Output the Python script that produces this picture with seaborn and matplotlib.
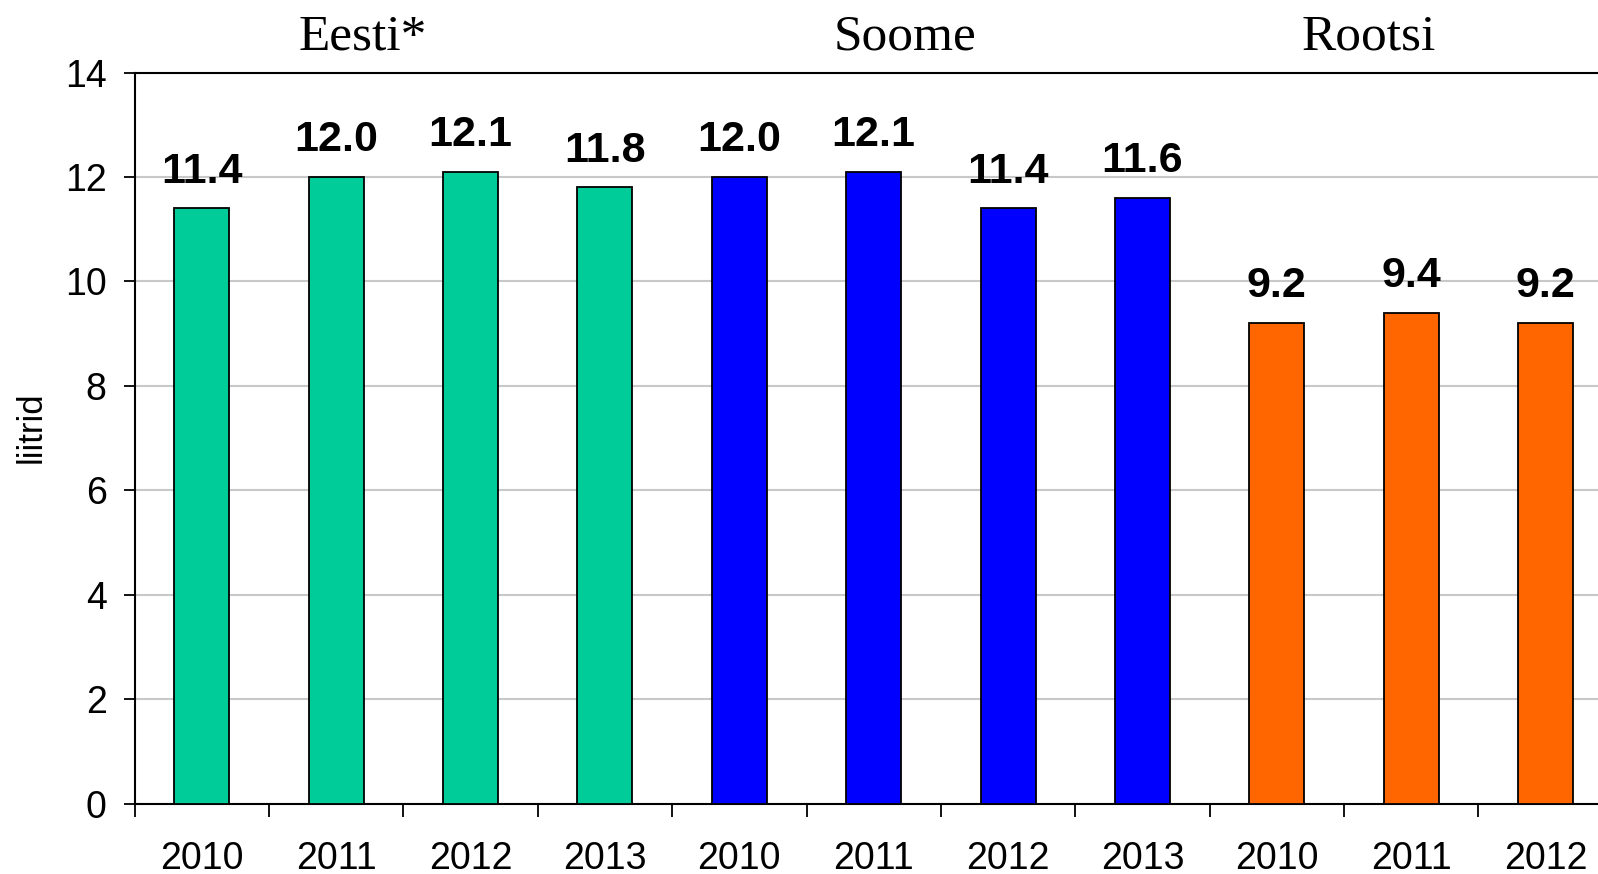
import pandas as pd
import numpy as np
import matplotlib.pyplot as plt
import matplotlib.transforms as mtransforms
import seaborn as sns

countries = ["Eesti*", "Soome", "Rootsi"]
years_eesti = ["2010", "2011", "2012", "2013"]
years_soome = ["2010", "2011", "2012", "2013"]
years_rootsi = ["2010", "2011", "2012"]
vals_eesti = [11.4, 12.0, 12.1, 11.8]
vals_soome = [12.0, 12.1, 11.4, 11.6]
vals_rootsi = [9.2, 9.4, 9.2]
colors = {"Eesti*": "#00CC99", "Soome": "#0000FF", "Rootsi": "#FF6600"}

rows = []
for c, yrs, vals in zip(countries, [years_eesti, years_soome, years_rootsi],
                        [vals_eesti, vals_soome, vals_rootsi]):
    for y, v in zip(yrs, vals):
        rows.append({"country": c, "year": y, "key": c + " " + y, "value": v})
df = pd.DataFrame(rows)

sns.set_style("white")
plt.rcParams["font.family"] = ["Liberation Sans", "DejaVu Sans"]
plt.rcParams["text.color"] = "black"
plt.rcParams["xtick.color"] = "black"
plt.rcParams["ytick.color"] = "black"
plt.rcParams["axes.labelcolor"] = "black"

fig = plt.figure(figsize=(15.98, 8.74), dpi=100)
W, H = 1598, 874
ax_left, ax_right, ax_top, ax_bot = 134.5, 134.5 + 11 * 134.4, 72.5, 803.5
ax = fig.add_axes([ax_left / W, 1 - ax_bot / H, (ax_right - ax_left) / W, (ax_bot - ax_top) / H])

sns.barplot(data=df, x="key", y="value", hue="country", palette=colors, dodge=False,
            width=0.41, saturation=1, edgecolor="black", linewidth=1.3, legend=False,
            ax=ax, zorder=3)

ax.set_ylim(0, 14)
ax.set_xlim(-0.5, len(df) - 0.5)
ax.set_yticks(np.arange(0, 15, 2))
ax.yaxis.grid(True, color="#C8C8C8", linewidth=1.5, zorder=0)
ax.set_axisbelow(True)

ax.set_xticks(range(len(df)))
ax.set_xticklabels(df["year"])
ax.set_xticks(np.arange(-0.5, len(df), 1), minor=True)
ax.tick_params(axis="x", which="major", length=0, pad=27, labelsize=27)
ax.tick_params(axis="x", which="minor", length=9, width=1.3, direction="out", bottom=True)
ax.tick_params(axis="y", length=8, width=1.3, direction="out", left=True, pad=12, labelsize=27)
ax.set_xlabel("")
ax.set_ylabel("")

for s in ["left", "bottom", "top", "right"]:
    ax.spines[s].set_color("black")
    ax.spines[s].set_linewidth(1.5)

for i, v in enumerate(df["value"]):
    ax.annotate(f"{v:.1f}", xy=(i, v), xytext=(0, 18.5), textcoords="offset points",
                ha="center", va="baseline", fontsize=31, fontweight="bold", color="black")

trans = mtransforms.blended_transform_factory(ax.transData, fig.transFigure)
title_x = [1.2, 5.23, 8.68]
for name, tx in zip(countries, title_x):
    ax.text(tx, 1 - 50 / H, name, transform=trans, ha="center", va="baseline",
            fontsize=37, family=["Liberation Serif", "DejaVu Serif"], color="black")

fig.text(31 / W, 1 - 427 / H, "liitrid", rotation=90, ha="center", va="center", fontsize=25)

fig.savefig("out.png", dpi=100)
